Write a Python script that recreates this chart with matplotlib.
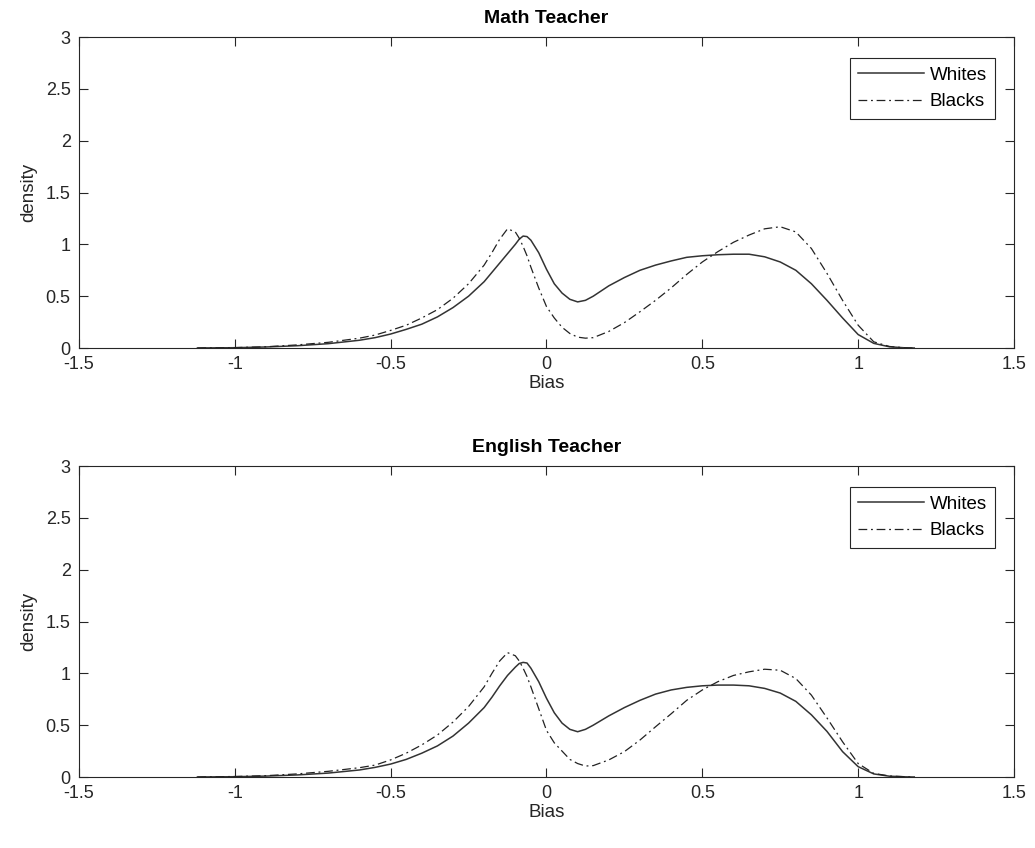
import numpy as np
import matplotlib
matplotlib.use("Agg")
import matplotlib.pyplot as plt

plt.rcParams['font.family'] = ['Liberation Sans', 'DejaVu Sans']
plt.rcParams['axes.unicode_minus'] = False

# Kernel density estimates of teacher bias, sampled on a shared grid
bias = [-1.12, -1.1, -1.0, -0.9, -0.8, -0.7, -0.6,
        -0.55, -0.5, -0.45, -0.4, -0.35, -0.3, -0.25, -0.2,
        -0.175, -0.15, -0.125, -0.1, -0.0875, -0.075, -0.0625, -0.05, -0.025,
        0.0, 0.025, 0.05, 0.075, 0.1, 0.125, 0.15,
        0.2, 0.25, 0.3, 0.35, 0.4, 0.45, 0.5, 0.55, 0.6, 0.65, 0.7, 0.75,
        0.8, 0.85, 0.9, 0.95, 1.0, 1.05, 1.1, 1.15,
        1.18]

math_whites = [0.0, 0.001, 0.003, 0.01, 0.022, 0.042, 0.075,
               0.10, 0.135, 0.18, 0.23, 0.30, 0.39, 0.50, 0.64,
               0.73, 0.82, 0.91, 1.00, 1.05, 1.08, 1.075, 1.04, 0.92,
               0.76, 0.62, 0.53, 0.47, 0.445, 0.46, 0.50,
               0.60, 0.68, 0.75, 0.80, 0.84, 0.875, 0.89, 0.90, 0.905, 0.905, 0.88, 0.83,
               0.75, 0.62, 0.46, 0.29, 0.13, 0.045, 0.012, 0.002,
               0.0]
math_blacks = [0.0, 0.001, 0.004, 0.012, 0.03, 0.055, 0.095,
               0.125, 0.17, 0.22, 0.29, 0.37, 0.48, 0.62, 0.80,
               0.92, 1.05, 1.15, 1.12, 1.06, 0.98, 0.89, 0.78, 0.58,
               0.40, 0.29, 0.20, 0.14, 0.105, 0.095, 0.10,
               0.16, 0.245, 0.35, 0.46, 0.58, 0.71, 0.83, 0.93, 1.02, 1.09, 1.15, 1.17,
               1.12, 0.96, 0.72, 0.46, 0.22, 0.06, 0.015, 0.002,
               0.0]

english_whites = [0.0, 0.001, 0.003, 0.009, 0.02, 0.038, 0.068,
                  0.093, 0.125, 0.17, 0.23, 0.30, 0.395, 0.52, 0.67,
                  0.77, 0.88, 0.98, 1.06, 1.095, 1.106, 1.10, 1.05, 0.92,
                  0.76, 0.62, 0.52, 0.46, 0.437, 0.46, 0.50,
                  0.59, 0.67, 0.74, 0.80, 0.84, 0.865, 0.88, 0.887, 0.887, 0.88, 0.855, 0.81,
                  0.73, 0.60, 0.44, 0.245, 0.10, 0.03, 0.008, 0.002,
                  0.0]
english_blacks = [0.0, 0.001, 0.005, 0.013, 0.03, 0.055, 0.09,
                  0.115, 0.165, 0.23, 0.31, 0.405, 0.53, 0.68, 0.87,
                  1.00, 1.12, 1.20, 1.17, 1.12, 1.05, 0.97, 0.87, 0.66,
                  0.45, 0.33, 0.25, 0.17, 0.13, 0.106, 0.11,
                  0.165, 0.245, 0.357, 0.485, 0.61, 0.74, 0.84, 0.92, 0.98, 1.015, 1.04, 1.03,
                  0.95, 0.79, 0.57, 0.34, 0.13, 0.035, 0.01, 0.003,
                  0.0]

panels = [("Math Teacher", math_whites, math_blacks),
          ("English Teacher", english_whites, english_blacks)]
series_names = ["Whites", "Blacks"]

x_ticks = [-1.5, -1, -0.5, 0, 0.5, 1, 1.5]
x_tick_labels = ["-1.5", "-1", "-0.5", "0", "0.5", "1", "1.5"]
y_ticks = [0, 0.5, 1, 1.5, 2, 2.5, 3]
y_tick_labels = ["0", "0.5", "1", "1.5", "2", "2.5", "3"]

fig = plt.figure(figsize=(10.35, 8.48), dpi=100)
axes_boxes = [[0.0763, 0.5896, 0.9034, 0.3667],
              [0.0763, 0.0837, 0.9034, 0.3667]]

for box, (title, whites, blacks) in zip(axes_boxes, panels):
    ax = fig.add_axes(box)
    ax.plot(bias, whites, color='#333333', linewidth=1.1, label=series_names[0])
    ax.plot(bias, blacks, color='#222222', linewidth=0.9,
            linestyle=(0, (7, 3, 1.5, 3)), label=series_names[1])

    ax.set_xlim(-1.5, 1.5)
    ax.set_ylim(0, 3)
    ax.set_xticks(x_ticks)
    ax.set_xticklabels(x_tick_labels)
    ax.set_yticks(y_ticks)
    ax.set_yticklabels(y_tick_labels)
    ax.tick_params(direction='in', length=6.5, width=0.8, pad=6,
                   top=True, right=True, labelsize=13, colors='#262626')
    for spine in ax.spines.values():
        spine.set_color('#262626')
        spine.set_linewidth(0.8)

    ax.set_title(title, fontsize=14, fontweight='bold', color='#000000', pad=10)
    ax.set_xlabel("Bias", fontsize=13.5, color='#262626', labelpad=1)
    ax.set_ylabel("density", fontsize=13.5, color='#262626', labelpad=6)

    leg = ax.legend(loc='upper right', bbox_to_anchor=(0.9797, 0.9325), borderaxespad=0,
                    fontsize=13.5, handlelength=3.5, fancybox=False, framealpha=1,
                    edgecolor='#262626', borderpad=0.45, labelspacing=0.52, handletextpad=0.3)
    leg.get_frame().set_linewidth(0.8)

fig.savefig("out.png", dpi=100)
